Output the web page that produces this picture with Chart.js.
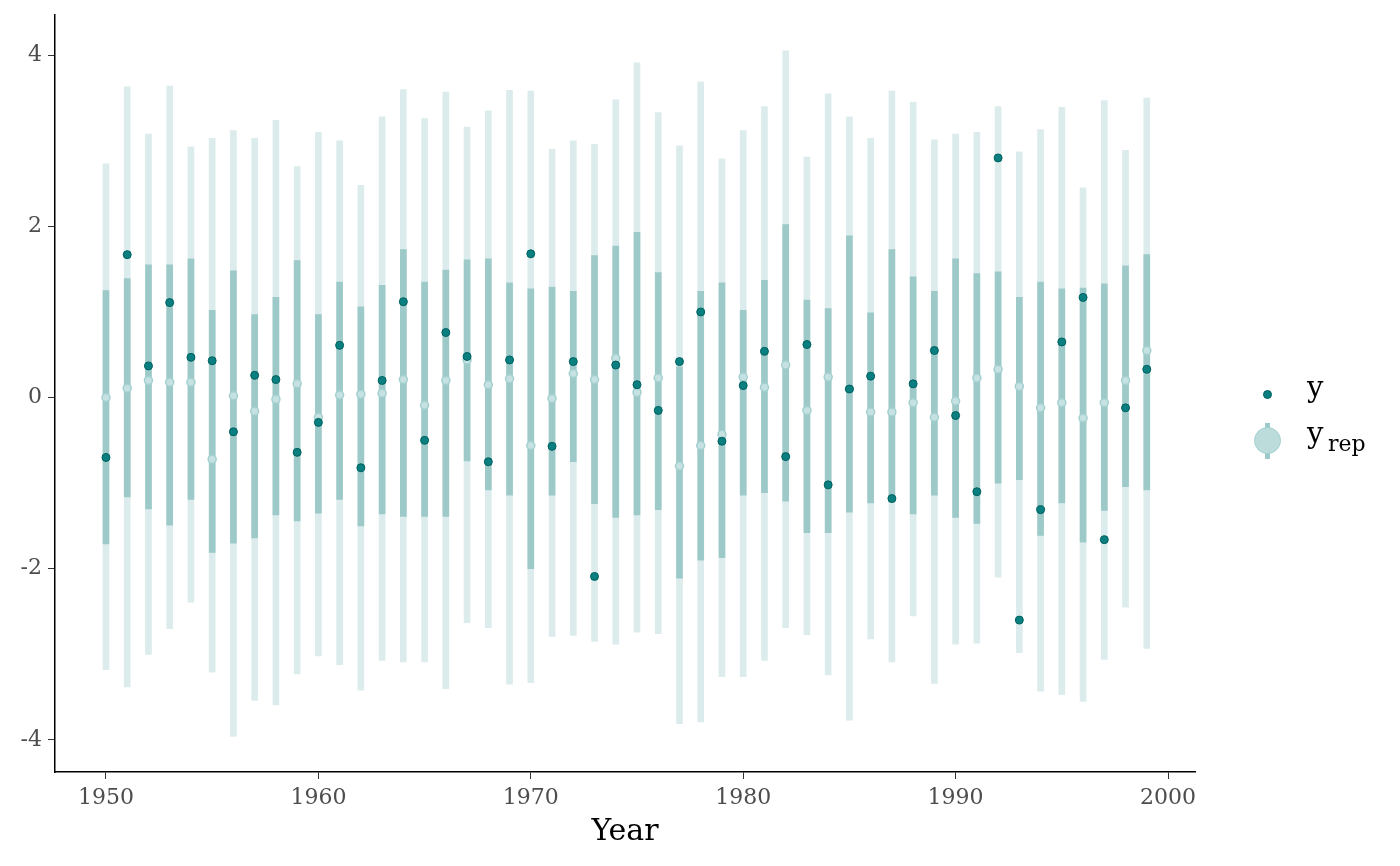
<!DOCTYPE html>
<html>
<head>
<meta charset="utf-8">
<script src="https://cdn.jsdelivr.net/npm/chart.js@4.4.1/dist/chart.umd.min.js"></script>
<style>
  html, body { margin: 0; padding: 0; background: #fff; }
  #wrap { position: relative; width: 1400px; height: 866px; }
  .lg { position: absolute; font-family: "DejaVu Serif", serif; color: #000; line-height: 1; white-space: nowrap; }
  .dot { position: absolute; border-radius: 50%; box-sizing: border-box; }
</style>
</head>
<body>
<div id="wrap">
  <canvas id="ppc" width="1400" height="866"></canvas>

  <!-- legend -->
  <div class="dot" style="left:1263px;top:390px;width:9px;height:9px;background:#0b7f7f;border:1px solid #005f5f;"></div>
  <div class="lg" style="left:1307px;top:373px;font-size:29px;">y</div>

  <div style="position:absolute;left:1265px;top:423px;width:5px;height:36px;background:#9cc9c9;"></div>
  <div class="dot" style="left:1254px;top:427px;width:27px;height:27px;background:#bcdcdc;border:1.5px solid #a2cfcf;"></div>
  <div class="lg" style="left:1307px;top:419px;font-size:29px;">y</div>
  <div class="lg" style="left:1328px;top:433px;font-size:22px;">rep</div>
</div>

<script>
// posterior predictive intervals by year
const years = [
  1950, 1951, 1952, 1953, 1954, 1955, 1956, 1957, 1958, 1959,
  1960, 1961, 1962, 1963, 1964, 1965, 1966, 1967, 1968, 1969,
  1970, 1971, 1972, 1973, 1974, 1975, 1976, 1977, 1978, 1979,
  1980, 1981, 1982, 1983, 1984, 1985, 1986, 1987, 1988, 1989,
  1990, 1991, 1992, 1993, 1994, 1995, 1996, 1997, 1998, 1999
];

// observed y
const yObs = [
  -0.70, 1.67, 0.37, 1.11, 0.47, 0.43, -0.40, 0.26, 0.21, -0.64,
  -0.29, 0.61, -0.82, 0.20, 1.12, -0.50, 0.76, 0.48, -0.75, 0.44,
  1.68, -0.57, 0.42, -2.09, 0.38, 0.15, -0.15, 0.42, 1.00, -0.51,
  0.14, 0.54, -0.69, 0.62, -1.02, 0.10, 0.25, -1.18, 0.16, 0.55,
  -0.21, -1.10, 2.80, -2.60, -1.31, 0.65, 1.17, -1.66, -0.12, 0.33
];

// y_rep median
const repMedian = [
  0.00, 0.11, 0.20, 0.18, 0.18, -0.72, 0.02, -0.16, -0.02, 0.16,
  -0.23, 0.03, 0.04, 0.05, 0.21, -0.09, 0.20, 0.44, 0.15, 0.22,
  -0.56, -0.01, 0.28, 0.21, 0.46, 0.06, 0.23, -0.80, -0.56, -0.43,
  0.24, 0.12, 0.38, -0.15, 0.24, 0.10, -0.17, -0.17, -0.06, -0.23,
  -0.04, 0.23, 0.33, 0.13, -0.12, -0.06, -0.24, -0.06, 0.20, 0.55
];

// 50% interval
const lo50 = [
  -1.71, -1.16, -1.30, -1.49, -1.19, -1.81, -1.70, -1.64, -1.37, -1.44,
  -1.35, -1.19, -1.50, -1.36, -1.39, -1.39, -1.39, -0.74, -1.08, -1.14,
  -2.00, -1.14, -0.75, -1.24, -1.40, -1.37, -1.31, -2.11, -1.90, -1.87,
  -1.14, -1.11, -1.21, -1.58, -1.58, -1.34, -1.23, -1.22, -1.36, -1.14,
  -1.40, -1.47, -1.00, -0.96, -1.61, -1.23, -1.69, -1.32, -1.04, -1.08
];
const hi50 = [
  1.25, 1.39, 1.55, 1.55, 1.62, 1.02, 1.48, 0.97, 1.17, 1.60,
  0.97, 1.35, 1.06, 1.31, 1.73, 1.35, 1.49, 1.61, 1.62, 1.34,
  1.27, 1.29, 1.24, 1.66, 1.77, 1.93, 1.46, 0.36, 1.24, 1.34,
  1.02, 1.37, 2.02, 1.14, 1.04, 1.89, 0.99, 1.73, 1.41, 1.24,
  1.62, 1.45, 1.47, 1.17, 1.35, 1.27, 1.28, 1.33, 1.54, 1.67
];

// 90% interval
const lo90 = [
  -3.18, -3.38, -3.00, -2.70, -2.39, -3.21, -3.96, -3.54, -3.59, -3.23,
  -3.02, -3.12, -3.42, -3.07, -3.09, -3.09, -3.40, -2.63, -2.69, -3.35,
  -3.33, -2.79, -2.78, -2.85, -2.88, -2.74, -2.76, -3.81, -3.79, -3.26,
  -3.26, -3.07, -2.69, -2.77, -3.24, -3.77, -2.82, -3.09, -2.55, -3.34,
  -2.88, -2.87, -2.10, -2.98, -3.43, -3.47, -3.55, -3.06, -2.45, -2.93
];
const hi90 = [
  2.73, 3.63, 3.08, 3.64, 2.93, 3.03, 3.12, 3.03, 3.24, 2.70,
  3.10, 3.00, 2.48, 3.28, 3.60, 3.26, 3.57, 3.16, 3.35, 3.59,
  3.58, 2.90, 3.00, 2.96, 3.48, 3.91, 3.33, 2.94, 3.69, 2.79,
  3.12, 3.40, 4.05, 2.81, 3.55, 3.28, 3.03, 3.58, 3.45, 3.01,
  3.08, 3.10, 3.40, 2.87, 3.13, 3.39, 2.45, 3.47, 2.89, 3.50
];

const xTicks = [1950, 1960, 1970, 1980, 1990, 2000];
const yTicks = [-4, -2, 0, 2, 4];

const serif = '"DejaVu Serif", serif';

new Chart(document.getElementById('ppc'), {
  type: 'bar',
  data: {
    datasets: [
      {
        label: '90%',
        data: years.map((yr, i) => ({ x: yr, y: [lo90[i], hi90[i]] })),
        backgroundColor: '#dcecec',
        borderWidth: 0,
        barThickness: 6,
        grouped: false,
        order: 4
      },
      {
        label: '50%',
        data: years.map((yr, i) => ({ x: yr, y: [lo50[i], hi50[i]] })),
        backgroundColor: '#9dc9c9',
        borderWidth: 0,
        barThickness: 6,
        grouped: false,
        order: 3
      },
      {
        type: 'scatter',
        label: 'y_rep',
        data: years.map((yr, i) => ({ x: yr, y: repMedian[i] })),
        backgroundColor: '#c6e1e1',
        borderColor: '#a4d0d0',
        borderWidth: 1.5,
        pointRadius: 4,
        order: 2
      },
      {
        type: 'scatter',
        label: 'y',
        data: years.map((yr, i) => ({ x: yr, y: yObs[i] })),
        backgroundColor: '#0b7f7f',
        borderColor: '#005f5f',
        borderWidth: 1,
        pointRadius: 4,
        order: 1
      }
    ]
  },
  options: {
    responsive: false,
    animation: false,
    devicePixelRatio: 1,
    layout: { padding: { top: 15, right: 205, bottom: 0, left: 0 } },
    plugins: {
      legend: { display: false },
      tooltip: { enabled: false }
    },
    scales: {
      x: {
        type: 'linear',
        min: 1947.6,
        max: 2001.27,
        offset: false,
        afterBuildTicks: s => { s.ticks = xTicks.map(v => ({ value: v })); },
        afterFit: s => { s.height = 94; s.paddingLeft = 0; s.paddingRight = 0; },
        grid: { offset: false, drawOnChartArea: false, drawTicks: true, tickLength: 7, tickColor: '#333', tickWidth: 1 },
        border: { display: true, color: '#000', width: 1.5 },
        ticks: {
          color: '#4d4d4d',
          font: { family: serif, size: 22 },
          padding: 6,
          maxRotation: 0,
          callback: v => String(v)
        },
        title: {
          display: true,
          text: 'Year',
          color: '#000',
          font: { family: serif, size: 30 },
          padding: { top: 4, bottom: 16 }
        }
      },
      y: {
        type: 'linear',
        min: -4.375,
        max: 4.47,
        afterBuildTicks: s => { s.ticks = yTicks.map(v => ({ value: v })); },
        afterFit: s => { s.width = 55; s.paddingTop = 0; s.paddingBottom = 0; },
        grid: { drawOnChartArea: false, drawTicks: true, tickLength: 7, tickColor: '#333', tickWidth: 1 },
        border: { display: true, color: '#000', width: 1.5 },
        ticks: {
          color: '#4d4d4d',
          font: { family: serif, size: 22 },
          padding: 6,
          callback: v => String(v)
        }
      }
    }
  }
});
</script>
</body>
</html>
